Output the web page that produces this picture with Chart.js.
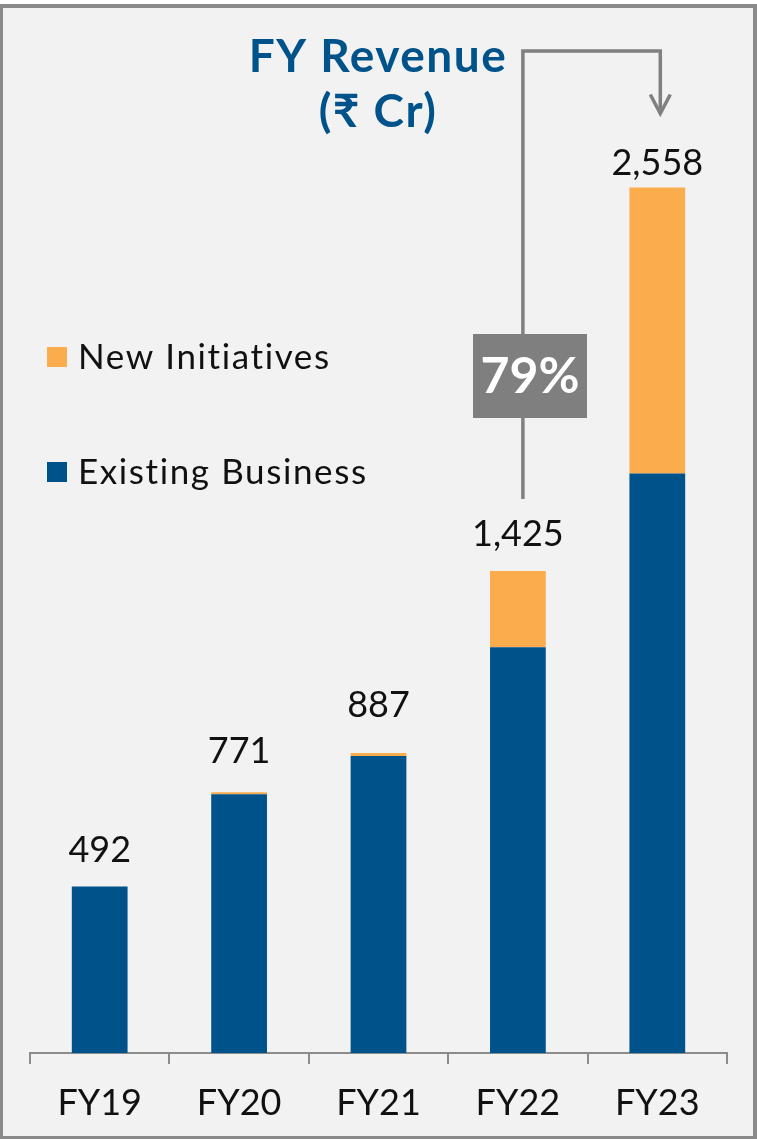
<!DOCTYPE html>
<html>
<head>
<meta charset="utf-8">
<style>
    html, body { margin: 0; padding: 0; background: #fff; }
    canvas { display: block; }
</style>
<script src="https://cdn.jsdelivr.net/npm/chart.js@4.4.0/dist/chart.umd.min.js"></script>
</head>
<body>
<canvas id="revenueChart" width="757" height="1139"></canvas>
<script>
// data (₹ Cr)
const categories = ['FY19', 'FY20', 'FY21', 'FY22', 'FY23'];
const existingBusiness = [492, 765, 878, 1199, 1713];
const newInitiatives = [0, 6, 9, 226, 845];
const totalLabels = ['492', '771', '887', '1,425', '2,558'];
const growthLabel = '79%';
const yMax = 3000;

const BLUE = '#00538a';
const ORANGE = '#fbac4c';
const GREY = '#808080';
const FONT = 'Lato, "DejaVu Sans", sans-serif';

// how far above each stack its total sits (the source deck is not uniform)
const labelLift = [25, 29, 36, 25, 13];

/**
 * Frame, title, legend, totals and the growth connector
 */
const overlayPlugin = {
    id: 'overlay',
    beforeDraw(chart) {
        const ctx = chart.ctx;
        ctx.save();
        ctx.fillStyle = '#ffffff';
        ctx.fillRect(0, 0, chart.width, chart.height);
        ctx.fillStyle = '#f2f2f2';
        ctx.fillRect(0, 4, chart.width, chart.height - 4);
        ctx.restore();
    },
    afterDraw(chart) {
        const ctx = chart.ctx;
        const x = chart.scales.x;
        const y = chart.scales.y;
        ctx.save();

        // frame
        ctx.fillStyle = '#8a8a8a';
        ctx.fillRect(0, 4, chart.width, 4);
        ctx.fillRect(0, 4, 3, chart.height - 4);
        ctx.fillRect(chart.width - 4, 4, 4, chart.height - 4);
        ctx.fillRect(0, chart.height - 3, chart.width, 3);

        // title
        ctx.fillStyle = BLUE;
        ctx.textAlign = 'center';
        ctx.textBaseline = 'alphabetic';
        ctx.font = `bold 46px ${FONT}`;
        ctx.letterSpacing = '1.5px';
        ctx.fillText('FY Revenue', 378, 72);
        ctx.fillText('(₹ Cr)', 378, 127);
        ctx.letterSpacing = '0px';

        // totals
        ctx.fillStyle = '#111';
        ctx.font = `36px ${FONT}`;
        totalLabels.forEach((t, i) => {
            const top = y.getPixelForValue(existingBusiness[i] + newInitiatives[i]);
            ctx.fillText(t, x.getPixelForValue(i), top - labelLift[i]);
        });

        // legend
        const items = [
            { text: chart.data.datasets[1].label, color: ORANGE, top: 347 },
            { text: chart.data.datasets[0].label, color: BLUE, top: 462 }
        ];
        ctx.textAlign = 'left';
        ctx.letterSpacing = '1.6px';
        items.forEach(it => {
            ctx.fillStyle = it.color;
            ctx.fillRect(47, it.top, 20, 20);
            ctx.fillStyle = '#111';
            ctx.font = `35px ${FONT}`;
            ctx.fillText(it.text, 78, it.top + 22);
        });
        ctx.letterSpacing = '0px';

        // growth connector FY22 -> FY23
        const x1 = x.getPixelForValue(3) + 5;
        const x2 = x.getPixelForValue(4) + 3;
        const yLow = y.getPixelForValue(existingBusiness[3] + newInitiatives[3]) - 72;
        const yTip = y.getPixelForValue(existingBusiness[4] + newInitiatives[4]) - 74;
        const yTop = 51;
        ctx.strokeStyle = GREY;
        ctx.lineWidth = 3.5;
        ctx.lineJoin = 'miter';
        ctx.beginPath();
        ctx.moveTo(x1, yLow);
        ctx.lineTo(x1, yTop);
        ctx.lineTo(x2, yTop);
        ctx.lineTo(x2, yTip);
        ctx.stroke();
        ctx.beginPath();
        ctx.moveTo(x2 - 10, yTip - 19);
        ctx.lineTo(x2, yTip);
        ctx.lineTo(x2 + 10, yTip - 19);
        ctx.stroke();

        // growth box
        ctx.fillStyle = '#7f7f7f';
        ctx.fillRect(473, 334, 114, 84);
        ctx.fillStyle = '#fff';
        ctx.textAlign = 'center';
        ctx.textBaseline = 'middle';
        ctx.font = `bold 50px ${FONT}`;
        ctx.fillText(growthLabel, 530, 377);

        ctx.restore();
    }
};

const ctx = document.getElementById('revenueChart').getContext('2d');
new Chart(ctx, {
    type: 'bar',
    data: {
        labels: categories,
        datasets: [
            {
                label: 'Existing Business',
                data: existingBusiness,
                backgroundColor: BLUE,
                borderWidth: 0
            },
            {
                label: 'New Initiatives',
                data: newInitiatives,
                backgroundColor: ORANGE,
                borderWidth: 0
            }
        ]
    },
    options: {
        responsive: false,
        animation: false,
        devicePixelRatio: 1,
        layout: { padding: { top: 38, left: 30, right: 30, bottom: 0 } },
        datasets: { bar: { barPercentage: 0.4, categoryPercentage: 1 } },
        plugins: {
            legend: { display: false },
            tooltip: { enabled: false }
        },
        scales: {
            x: {
                stacked: true,
                grid: {
                    offset: true,
                    drawOnChartArea: false,
                    drawTicks: true,
                    tickLength: 11,
                    color: '#8c8c8c',
                    lineWidth: 2
                },
                border: { display: true, color: '#8c8c8c', width: 2 },
                ticks: {
                    color: '#111',
                    font: { family: FONT, size: 36 },
                    padding: 18
                },
                afterFit: (s) => { s.height = 86; }
            },
            y: {
                stacked: true,
                display: false,
                min: 0,
                max: yMax
            }
        }
    },
    plugins: [overlayPlugin]
});
</script>
</body>
</html>
